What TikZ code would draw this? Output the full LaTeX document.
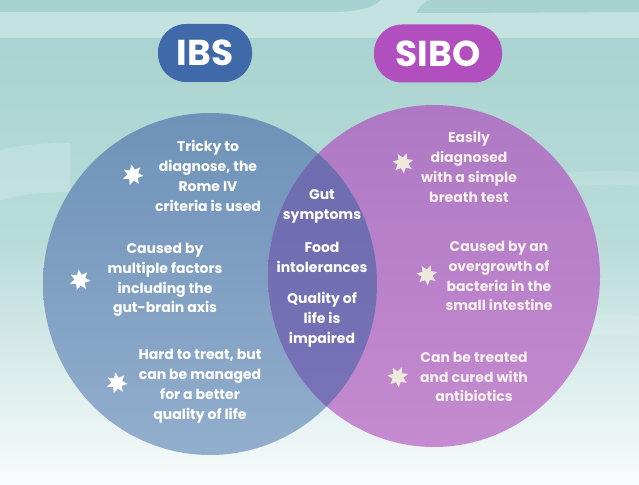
\documentclass[tikz,border=0pt]{standalone}
\usepackage{fontspec}
\setmainfont{Poppins}
\usetikzlibrary{shapes.geometric}
\definecolor{bgtop}{HTML}{A6D2CF}
\definecolor{bgmid}{HTML}{B9DCD9}
\definecolor{bglow}{HTML}{DDEEED}
\definecolor{bgbot}{HTML}{F8FBFB}
\definecolor{band}{HTML}{C3E2E0}
\definecolor{ibsblue}{HTML}{3F69A9}
\definecolor{sibopurple}{HTML}{B24FBF}
\definecolor{lefttop}{HTML}{6E92B8}
\definecolor{leftbot}{HTML}{93AECD}
\definecolor{righttop}{HTML}{AE78C4}
\definecolor{rightbot}{HTML}{C58BD0}
\definecolor{midtop}{HTML}{6A6CAE}
\definecolor{midbot}{HTML}{7A72B8}
\definecolor{cream}{HTML}{EEEADB}
\definecolor{txtr}{HTML}{F6F1EE}
\pgfdeclareverticalshading{bgshade}{100bp}{color(0bp)=(bgbot); color(25bp)=(bgbot); color(35.7bp)=(bglow); color(50bp)=(bgmid); color(75bp)=(bgtop); color(100bp)=(bgtop)}
\tikzset{
  pill/.style={rounded corners=28pt, minimum height=58pt, inner sep=0pt, text=white,
    font=\bfseries\fontsize{36}{36}\selectfont},
  blurb/.style={align=center, inner sep=0pt, text=white,
    font=\bfseries\fontsize{14}{19.8}\selectfont},
  starmark/.style={star, star points=7, star point ratio=1.9, minimum size=21pt,
    inner sep=0pt, draw=none},
}
\begin{document}
\begin{tikzpicture}[x=1pt,y=-1pt]
\useasboundingbox (0,0) rectangle (639,484);
% background
\shade[shading=bgshade] (0,0) rectangle (639,484);
\fill[band] (0,0) rectangle (639,38);
\fill[bgtop] (0,0) -- (0,12) -- (330,12) .. controls (360,12) and (374,7) .. (381,0) -- cycle;
\fill[bgtop] (416,13) .. controls (420,6) and (425,0) .. (432,0) -- (639,0) -- (639,12) -- (440,13) -- cycle;
\fill[white, opacity=0.18] (0,150) .. controls (20,145) and (40,143) .. (70,143) -- (70,192) .. controls (40,192) and (20,195) .. (0,200) -- cycle;
\fill[white, opacity=0.12] (560,174) .. controls (590,170) and (620,170) .. (639,172) -- (639,186) .. controls (620,184) and (590,184) .. (560,188) -- cycle;
\fill[white, opacity=0.12] (560,320) .. controls (590,314) and (620,314) .. (639,316) -- (639,336) .. controls (620,334) and (590,334) .. (560,340) -- cycle;
% ellipses
\shade[top color=lefttop, bottom color=leftbot] (210,284) ellipse [x radius=167pt, y radius=171pt];
\shade[top color=righttop, bottom color=rightbot] (434,276) ellipse [x radius=166pt, y radius=171pt];
\begin{scope}
  \clip (210,284) ellipse [x radius=167pt, y radius=171pt];
  \shade[top color=midtop, bottom color=midbot] (434,276) ellipse [x radius=166pt, y radius=171pt];
\end{scope}
% titles
\node[pill, fill=ibsblue, minimum width=94pt] (ibs) at (205,53) {IBS};
\node[pill, fill=sibopurple, minimum width=128pt] (sibo) at (438,53.5) {SIBO};
% left texts
\node[blurb] (l1) at (208,176) {Tricky to\\diagnose, the\\Rome IV\\criteria is used};
\node[blurb] (l2) at (165,280) {Caused by\\multiple factors\\including the\\gut-brain axis};
\node[blurb] (l3) at (200,386) {Hard to treat, but\\can be managed\\for a better\\quality of life};
% center texts
\node[blurb] (c1) at (322,206) {Gut\\symptoms};
\node[blurb] (c2) at (322,257) {Food\\intolerances};
\node[blurb] (c3) at (322,320) {Quality of\\life is\\impaired};
% right texts
\node[blurb, text=txtr] (r1) at (469,167) {Easily\\diagnosed\\with a simple\\breath test};
\node[blurb, text=txtr] (r2) at (499,276) {Caused by an\\overgrowth of\\bacteria in the\\small intestine};
\node[blurb, text=txtr] (r3) at (474,377) {Can be treated\\and cured with\\antibiotics};
% stars
\node[starmark, fill=white, rotate=8] (s1) at (133,175) {};
\node[starmark, fill=white, rotate=8] (s2) at (80,280) {};
\node[starmark, fill=white, rotate=8] (s3) at (117,383) {};
\node[starmark, fill=cream, rotate=30] (s4) at (403,163) {};
\node[starmark, fill=cream, rotate=30] (s5) at (427,275) {};
\node[starmark, fill=cream, rotate=30] (s6) at (398,377) {};
\end{tikzpicture}
\end{document}
